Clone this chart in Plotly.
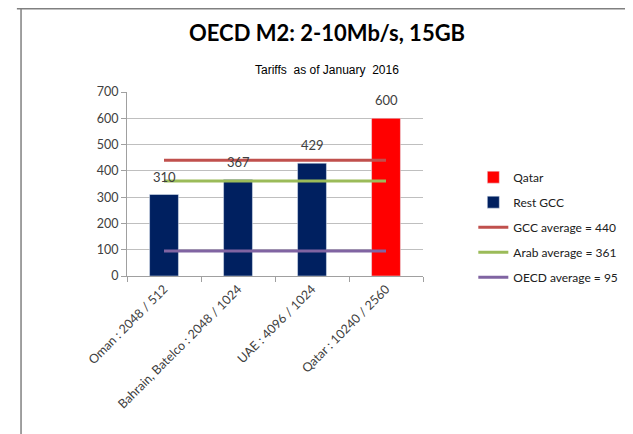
import plotly.graph_objects as go

# data
categories = ["Oman : 2048 / 512", "Bahrain, Batelco : 2048 / 1024",
              "UAE : 4096 / 1024", "Qatar : 10240 / 2560"]
rest_gcc = [310, 367, 429, None]
qatar = [None, None, None, 600]
gcc_avg = 440
arab_avg = 361
oecd_avg = 95

font = "Lato, Calibri, Open Sans, sans-serif"
fig = go.Figure()

fig.add_trace(go.Bar(x=categories, y=qatar, name="Qatar", marker_color="#FF0000",
                     width=0.39, legendgroup="a"))
fig.add_trace(go.Bar(x=categories, y=rest_gcc, name="Rest GCC", marker_color="#002060",
                     width=0.39, legendgroup="b"))
fig.add_trace(go.Scatter(x=categories, y=[gcc_avg] * 4, mode="lines",
                         name="GCC average = %d" % gcc_avg,
                         line=dict(color="#C0504D", width=3), legendgroup="c"))
fig.add_trace(go.Scatter(x=categories, y=[arab_avg] * 4, mode="lines",
                         name="Arab average = %d" % arab_avg,
                         line=dict(color="#9BBB59", width=3), legendgroup="d"))
fig.add_trace(go.Scatter(x=categories, y=[oecd_avg] * 4, mode="lines",
                         name="OECD average = %d" % oecd_avg,
                         line=dict(color="#8064A2", width=3), legendgroup="e"))

# value labels above bars
for c, v in zip(categories, [310, 367, 429, 600]):
    fig.add_annotation(x=c, y=v, text=str(v), showarrow=False, yshift=18,
                       font=dict(size=13, color="#404040", family=font))

# title + subtitle
fig.add_annotation(x=0.676, y=1.321, xref="paper", yref="paper", text="<b>OECD M2: 2-10Mb/s, 15GB</b>",
                   xanchor="center", yanchor="middle",
                   showarrow=False, font=dict(size=22, color="black", family=font))
fig.add_annotation(x=0.676, y=1.12, xref="paper", yref="paper", text="Tariffs  as of January  2016",
                   xanchor="center", yanchor="middle",
                   showarrow=False, font=dict(size=12, color="black",
                                              family="Liberation Sans Narrow, Arial Narrow, sans-serif"))

# outer frame lines
fig.add_shape(type="line", xref="paper", yref="paper", x0=-0.372, x1=1.72, y0=1.452, y1=1.452,
              line=dict(color="#808080", width=1.5))
fig.add_shape(type="line", xref="paper", yref="paper", x0=-0.358, x1=-0.358, y0=1.452, y1=-0.9,
              line=dict(color="#808080", width=1.5))

# page body has an 8px margin, so margins are shifted to keep the plot area in place
fig.update_layout(
    width=633, height=434,
    margin=dict(l=119, r=218, t=84, b=166, autoexpand=False),
    plot_bgcolor="white", paper_bgcolor="white",
    barmode="overlay",
    showlegend=True,
    legend=dict(x=1.17, y=0.616, xanchor="left", yanchor="top", tracegroupgap=6,
                font=dict(size=12, color="#202020", family=font), bgcolor="rgba(0,0,0,0)"),
    font=dict(family=font),
)
fig.update_xaxes(type="category", tickangle=-45, showline=True, linecolor="#A0A0A0",
                 ticks="outside", tickson="boundaries", ticklen=5, tickcolor="#A0A0A0",
                 tickfont=dict(size=12.5, color="#404040"), range=[-0.5, 3.5], automargin=False)
fig.update_yaxes(range=[0, 700], dtick=100, showgrid=True, gridcolor="#BFBFBF",
                 showline=True, linecolor="#A0A0A0", ticks="outside", ticklen=5,
                 tickcolor="#A0A0A0", tickfont=dict(size=12.5, color="#404040"), zeroline=False,
                 automargin=False)

fig.write_html("out.html")
